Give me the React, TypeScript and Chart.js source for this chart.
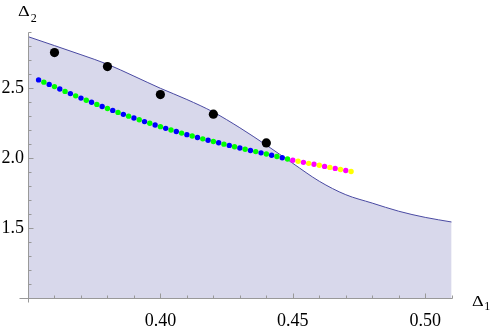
import React, { useEffect, useRef } from 'react';
import { Chart, registerables } from 'chart.js';

Chart.register(...registerables);

// Boundary curve of the shaded region
const boundaryX = [0.35, 0.36, 0.37, 0.38, 0.39, 0.40, 0.41, 0.42, 0.43, 0.44, 0.45, 0.46, 0.47, 0.48, 0.49, 0.50, 0.51];
const boundaryY = [2.869, 2.805, 2.74, 2.672, 2.587, 2.50, 2.42, 2.33, 2.218, 2.094, 1.964, 1.836, 1.740, 1.680, 1.622, 1.578, 1.545];

// Large black points
const blackX = [0.36, 0.38, 0.40, 0.42, 0.44];
const blackY = [2.755, 2.655, 2.455, 2.315, 2.11];

// Dotted curve, alternating colours
const blueX = [0.354, 0.358, 0.362, 0.366, 0.370, 0.374, 0.378, 0.382, 0.386, 0.390, 0.394, 0.398, 0.402, 0.406, 0.410, 0.414, 0.418, 0.422, 0.426, 0.430, 0.434, 0.438, 0.442, 0.446];
const blueY = [2.560, 2.528, 2.495, 2.462, 2.430, 2.400, 2.370, 2.342, 2.314, 2.288, 2.262, 2.238, 2.214, 2.191, 2.169, 2.149, 2.129, 2.111, 2.092, 2.074, 2.056, 2.039, 2.022, 2.004];
const greenX = [0.356, 0.360, 0.364, 0.368, 0.372, 0.376, 0.380, 0.384, 0.388, 0.392, 0.396, 0.400, 0.404, 0.408, 0.412, 0.416, 0.420, 0.424, 0.428, 0.432, 0.436, 0.440, 0.444, 0.448];
const greenY = [2.544, 2.512, 2.478, 2.446, 2.415, 2.385, 2.356, 2.328, 2.301, 2.275, 2.250, 2.226, 2.202, 2.180, 2.159, 2.139, 2.120, 2.101, 2.083, 2.065, 2.048, 2.031, 2.013, 1.995];
const magentaX = [0.450, 0.454, 0.458, 0.462, 0.466, 0.470];
const magentaY = [1.986, 1.971, 1.957, 1.942, 1.928, 1.913];
const yellowX = [0.452, 0.456, 0.460, 0.464, 0.468, 0.472];
const yellowY = [1.979, 1.964, 1.950, 1.935, 1.920, 1.906];

// Axes
const xTickLabels = [0.40, 0.45, 0.50];
const yTickLabels = [1.5, 2.0, 2.5];
const xMinorTicks = [0.36, 0.37, 0.38, 0.39, 0.41, 0.42, 0.43, 0.44, 0.46, 0.47, 0.48, 0.49, 0.51];
const yMinorTicks = [1.1, 1.2, 1.3, 1.4, 1.6, 1.7, 1.8, 1.9, 2.1, 2.2, 2.3, 2.4, 2.6, 2.7, 2.8, 2.9];
const xRange = [0.35, 0.51];
const yRange = [1.0, 2.9];

const AXIS_COLOR = '#999999';
const FONT = '"Liberation Serif", "Times New Roman", serif';

const pts = (xs: number[], ys: number[]) => xs.map((x, i) => ({ x, y: ys[i] }));

export default function App() {
  const ref = useRef<HTMLCanvasElement>(null);

  useEffect(() => {
    const canvas = ref.current;
    if (!canvas) return;

    const axisPlugin = {
      id: 'mmaAxes',
      afterDatasetsDraw(chart: any) {
        const { ctx, scales } = chart;
        const xs = scales.x;
        const ys = scales.y;
        const ax = Math.round(xs.getPixelForValue(xRange[0])) + 0.5;
        const ay = Math.round(ys.getPixelForValue(yRange[0])) + 0.5;
        const axEnd = Math.round(xs.getPixelForValue(xRange[1])) + 0.5;
        const ayTop = Math.round(ys.getPixelForValue(yRange[1])) + 0.5;
        ctx.save();
        ctx.strokeStyle = AXIS_COLOR;
        ctx.lineWidth = 1;
        ctx.beginPath();
        ctx.moveTo(ax - 9, ay);
        ctx.lineTo(axEnd, ay);
        ctx.moveTo(ax, ay + 4);
        ctx.lineTo(ax, ayTop);
        xTickLabels.forEach((v) => {
          const p = Math.round(xs.getPixelForValue(v)) + 0.5;
          ctx.moveTo(p, ay);
          ctx.lineTo(p, ay - 5);
        });
        xMinorTicks.forEach((v) => {
          const p = Math.round(xs.getPixelForValue(v)) + 0.5;
          ctx.moveTo(p, ay);
          ctx.lineTo(p, ay - 3);
        });
        yTickLabels.forEach((v) => {
          const p = Math.round(ys.getPixelForValue(v)) + 0.5;
          ctx.moveTo(ax, p);
          ctx.lineTo(ax + 5, p);
        });
        yMinorTicks.forEach((v) => {
          const p = Math.round(ys.getPixelForValue(v)) + 0.5;
          ctx.moveTo(ax, p);
          ctx.lineTo(ax + 3, p);
        });
        ctx.stroke();
        ctx.restore();
      },
    };

    const dotSet = (xs: number[], ys: number[], color: string, r: number) => ({
      data: pts(xs, ys),
      showLine: false,
      order: 1,
      pointRadius: r,
      pointHoverRadius: r,
      pointBackgroundColor: color,
      pointBorderWidth: 0,
      borderColor: color,
      backgroundColor: color,
    });

    const chart = new Chart(canvas, {
      type: 'scatter',
      data: {
        datasets: [
          dotSet(blackX, blackY, '#000000', 4.6),
          dotSet(yellowX, yellowY, '#ffff00', 2.7),
          dotSet(magentaX, magentaY, '#ff00ff', 2.7),
          dotSet(greenX, greenY, '#00ff00', 2.7),
          dotSet(blueX, blueY, '#0000ff', 2.7),
          {
            data: pts(boundaryX, boundaryY),
            showLine: true,
            order: 10,
            pointRadius: 0,
            borderColor: '#4a4aa2',
            borderWidth: 1,
            backgroundColor: '#d8d8eb',
            fill: 'start',
            cubicInterpolationMode: 'monotone',
          } as any,
        ],
      },
      options: {
        animation: false,
        responsive: false,
        devicePixelRatio: 1,
        layout: { padding: { top: 32.3, right: 39.3, left: 0, bottom: 0 } },
        plugins: {
          legend: { display: false },
          tooltip: { enabled: false },
        },
        events: [],
        scales: {
          x: {
            type: 'linear',
            min: xRange[0],
            max: xRange[1],
            grid: { display: false, drawTicks: false },
            border: { display: false },
            ticks: {
              padding: 12,
              color: '#000',
              font: { family: FONT, size: 18 },
              callback: (v: any) => Number(v).toFixed(2),
            },
            afterBuildTicks: (s: any) => {
              s.ticks = xTickLabels.map((v) => ({ value: v }));
            },
            afterFit: (s: any) => {
              s.height = 27.7;
            },
          },
          y: {
            type: 'linear',
            min: yRange[0],
            max: yRange[1],
            grid: { display: false, drawTicks: false },
            border: { display: false },
            ticks: {
              padding: 4,
              color: '#000',
              font: { family: FONT, size: 18 },
              callback: (v: any) => Number(v).toFixed(1),
            },
            afterBuildTicks: (s: any) => {
              s.ticks = yTickLabels.map((v) => ({ value: v }));
            },
            afterFit: (s: any) => {
              s.width = 28;
            },
          },
        },
      },
      plugins: [axisPlugin],
    });

    return () => chart.destroy();
  }, []);

  const labelStyle: React.CSSProperties = {
    position: 'absolute',
    fontFamily: FONT,
    color: '#000',
    whiteSpace: 'nowrap',
  };

  return (
    <div style={{ position: 'fixed', left: 0, top: 0, width: 491, height: 326, background: '#fff' }}>
      <canvas ref={ref} width={491} height={326} style={{ display: 'block', width: 491, height: 326 }} />
      <span style={{ ...labelStyle, left: 18, top: 5.3, fontSize: 14, lineHeight: '14px', display: 'inline-block', transform: 'scaleX(1.3)', transformOrigin: 'left top' }}>Δ</span>
      <span style={{ ...labelStyle, left: 30.7, top: 11.6, fontSize: 12, lineHeight: '12px' }}>2</span>
      <span style={{ ...labelStyle, left: 471.7, top: 295.3, fontSize: 14, lineHeight: '14px', display: 'inline-block', transform: 'scaleX(1.3)', transformOrigin: 'left top' }}>Δ</span>
      <span style={{ ...labelStyle, left: 484.3, top: 299.5, fontSize: 12, lineHeight: '12px' }}>1</span>
    </div>
  );
}
